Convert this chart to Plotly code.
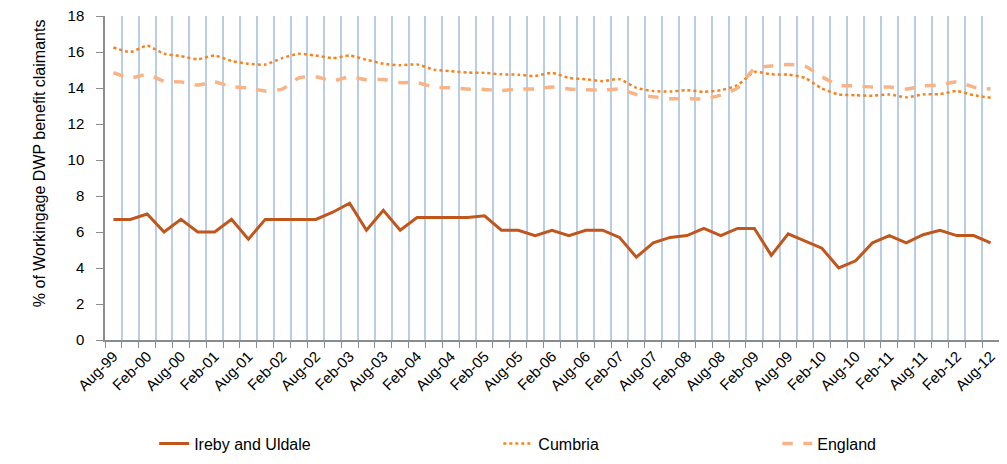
import plotly.graph_objects as go

COLORS = {
    "ireby": "#C0561C",
    "cumbria": "#F7831F",
    "england": "#F9B385",
    "grid": "#B9CDE5",
    "axis": "#8C8C8C",
    "text": "#000000",
}

quarters = [
    "Aug-99", "Nov-99", "Feb-00", "May-00", "Aug-00", "Nov-00", "Feb-01", "May-01",
    "Aug-01", "Nov-01", "Feb-02", "May-02", "Aug-02", "Nov-02", "Feb-03", "May-03",
    "Aug-03", "Nov-03", "Feb-04", "May-04", "Aug-04", "Nov-04", "Feb-05", "May-05",
    "Aug-05", "Nov-05", "Feb-06", "May-06", "Aug-06", "Nov-06", "Feb-07", "May-07",
    "Aug-07", "Nov-07", "Feb-08", "May-08", "Aug-08", "Nov-08", "Feb-09", "May-09",
    "Aug-09", "Nov-09", "Feb-10", "May-10", "Aug-10", "Nov-10", "Feb-11", "May-11",
    "Aug-11", "Nov-11", "Feb-12", "May-12", "Aug-12",
]

ireby = [
    6.7, 6.7, 7.0, 6.0, 6.7, 6.0, 6.0, 6.7, 5.6, 6.7, 6.7, 6.7, 6.7, 7.1, 7.6, 6.1,
    7.2, 6.1, 6.8, 6.8, 6.8, 6.8, 6.9, 6.1, 6.1, 5.8, 6.1, 5.8, 6.1, 6.1, 5.7, 4.6,
    5.4, 5.7, 5.8, 6.2, 5.8, 6.2, 6.2, 4.7, 5.9, 5.5, 5.1, 4.0, 4.4, 5.4, 5.8, 5.4,
    5.85, 6.1, 5.8, 5.8, 5.4,
]

cumbria = [
    16.25, 16.0, 16.35, 15.9, 15.77, 15.6, 15.8, 15.5, 15.35, 15.3, 15.66, 15.9, 15.8,
    15.66, 15.8, 15.57, 15.35, 15.26, 15.31, 15.02, 14.93, 14.86, 14.84, 14.76, 14.74,
    14.67, 14.84, 14.56, 14.49, 14.38, 14.49, 14.01, 13.83, 13.8, 13.88, 13.79, 13.88,
    14.16, 14.89, 14.76, 14.74, 14.56, 13.97, 13.64, 13.6, 13.57, 13.64, 13.48, 13.64,
    13.66, 13.83, 13.6, 13.46,
]

england = [
    14.86, 14.56, 14.75, 14.38, 14.34, 14.16, 14.34, 14.07, 14.01, 13.84, 13.94, 14.56,
    14.62, 14.4, 14.62, 14.46, 14.47, 14.3, 14.3, 14.05, 14.01, 13.94, 13.92, 13.86,
    13.94, 13.95, 14.05, 13.95, 13.9, 13.88, 13.94, 13.64, 13.51, 13.4, 13.42, 13.39,
    13.6, 14.01, 15.07, 15.22, 15.3, 15.22, 14.62, 14.16, 14.12, 14.05, 14.05, 13.94,
    14.12, 14.16, 14.34, 14.05, 13.94,
]

y_ticks = [0, 2, 4, 6, 8, 10, 12, 14, 16, 18]

# only every second quarter gets a label, but every quarter gets a gridline
tick_text = [q if i % 2 == 0 else "" for i, q in enumerate(quarters)]

fig = go.Figure()
fig.add_trace(go.Scatter(x=quarters, y=ireby, name="Ireby and Uldale", mode="lines",
                         line=dict(color=COLORS["ireby"], width=3), legend="legend"))
fig.add_trace(go.Scatter(x=quarters, y=cumbria, name="Cumbria", mode="lines",
                         line=dict(color=COLORS["cumbria"], width=2.5, dash="dot",
                                   shape="spline", smoothing=0.6), legend="legend2"))
fig.add_trace(go.Scatter(x=quarters, y=england, name="England", mode="lines",
                         line=dict(color=COLORS["england"], width=3.5, dash="dash",
                                   shape="spline", smoothing=0.6), legend="legend3"))


def _legend(x):
    return dict(orientation="h", x=x, y=-0.32, xanchor="left", yanchor="middle",
                font=dict(size=16), bgcolor="rgba(0,0,0,0)")


# the page body adds an 8px margin, so the figure is sized to fit inside it
fig.update_layout(
    width=991, height=448,
    paper_bgcolor="white", plot_bgcolor="white",
    font=dict(family="Liberation Sans, Arial, sans-serif", color=COLORS["text"], size=15),
    margin=dict(l=97, r=0, t=8, b=116, autoexpand=False),
    showlegend=True,
    legend=_legend(0.055),
    legend2=_legend(0.44),
    legend3=_legend(0.752),
    # axis title sits a bit above the plot centre, like the original
    annotations=[dict(text="% of Workingage DWP benefit claimants", textangle=-90,
                      xref="paper", yref="paper", x=-0.073, y=0.545,
                      xanchor="center", yanchor="middle", showarrow=False,
                      font=dict(size=16))],
)

fig.update_xaxes(
    type="category",
    tickvals=quarters, ticktext=tick_text,
    tickson="boundaries", tickangle=-45,
    showgrid=True, gridcolor=COLORS["grid"], gridwidth=2,
    ticks="outside", ticklen=6, tickcolor=COLORS["axis"],
    showline=True, linecolor=COLORS["axis"], linewidth=1.5,
    tickfont=dict(size=15),
    range=[-0.5, len(quarters) - 0.5],
)
fig.update_yaxes(
    range=[0, 18], tickvals=y_ticks,
    showgrid=False, zeroline=False,
    ticks="outside", ticklen=7, tickcolor=COLORS["axis"],
    showline=True, linecolor=COLORS["axis"], linewidth=1.5,
    tickfont=dict(size=15), ticklabelstandoff=9, ticklabeloverflow="allow",
)

fig.write_html("out.html")
